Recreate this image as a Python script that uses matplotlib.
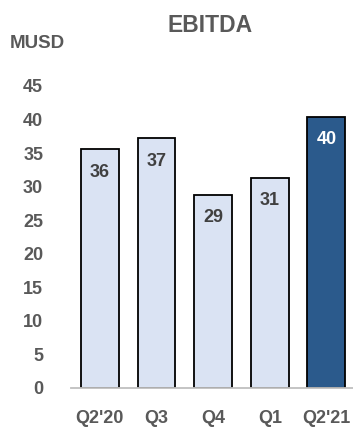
import matplotlib
matplotlib.use("Agg")
import matplotlib.pyplot as plt

quarters = ["Q2'20", "Q3", "Q4", "Q1", "Q2'21"]
ebitda = [35.6, 37.2, 28.8, 31.3, 40.4]
value_labels = ["36", "37", "29", "31", "40"]
yticks = [0, 5, 10, 15, 20, 25, 30, 35, 40, 45]

LIGHT = "#DAE3F3"
DARK = "#2B5A8C"
GREY = "#595959"
FONT = ["Liberation Sans", "DejaVu Sans"]

plt.rcParams["font.family"] = FONT

fig = plt.figure(figsize=(3.53, 4.28), dpi=100)
# axes box in pixel terms: x 71..353, y baseline 387.7
ax = fig.add_axes([71 / 353, 1 - 387.7 / 428, (353 - 71) / 353, (387.7 - 86) / 428])

colors = [LIGHT] * (len(ebitda) - 1) + [DARK]
x = list(range(len(quarters)))
bars = ax.bar(x, ebitda, width=0.67, color=colors, edgecolor="black", linewidth=1.3, zorder=2)

for b, lab, c in zip(bars, value_labels, colors):
    tc = "white" if c == DARK else "#404040"
    ax.annotate(lab, (b.get_x() + b.get_width() / 2, b.get_height()),
                xytext=(0, -23), textcoords="offset pixels",
                ha="center", va="center", fontsize=13, fontweight="bold", color=tc)

ax.set_xlim(-0.51, 4.47)
ax.set_ylim(0, 45)
ax.set_yticks(yticks)
ax.set_xticks(x)
ax.set_xticklabels(quarters)
ax.tick_params(axis="y", length=0, pad=20, labelsize=13, labelcolor=GREY)
ax.tick_params(axis="x", length=0, pad=16, labelsize=13, labelcolor=GREY)
for lbl in ax.get_xticklabels() + ax.get_yticklabels():
    lbl.set_fontweight("bold")

for s in ["top", "right", "left"]:
    ax.spines[s].set_visible(False)
ax.spines["bottom"].set_color("#BFBFBF")
ax.spines["bottom"].set_linewidth(1.3)

fig.text(210 / 353, 1 - 26 / 428, "EBITDA", ha="center", va="center",
         fontsize=16.5, fontweight="bold", color=GREY)
fig.text(10 / 353, 1 - 43 / 428, "MUSD", ha="left", va="center",
         fontsize=13.5, fontweight="bold", color=GREY)

fig.savefig("out.png", dpi=100)
